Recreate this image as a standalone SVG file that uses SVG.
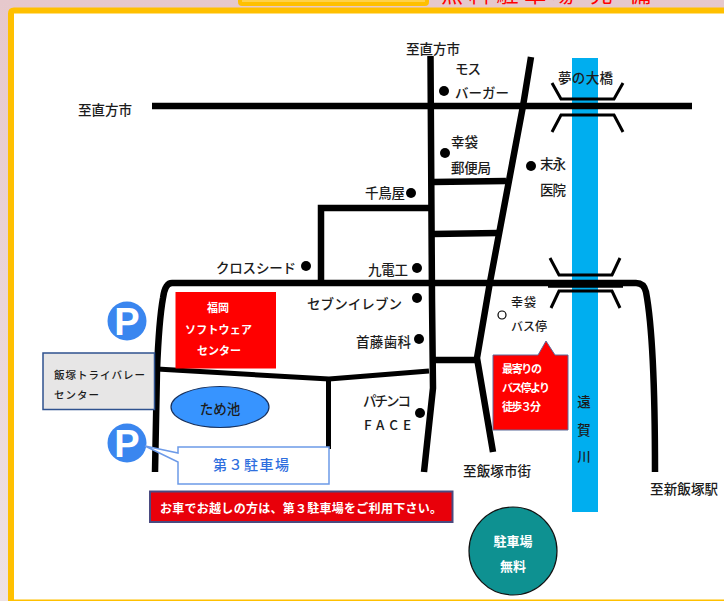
<svg xmlns="http://www.w3.org/2000/svg" width="724" height="601" viewBox="0 0 724 601">
<style>
text{font-family:"Noto Sans CJK JP","Liberation Sans",sans-serif;dominant-baseline:central}
.t{font-size:13.500px;fill:#1c1c1c;font-weight:500}
.w{font-size:11px;fill:#fff;font-weight:700}
.r{fill:none;stroke:#000;stroke-width:6.500}
.b{fill:none;stroke:#000;stroke-width:3}
.d{fill:#000}
.p{fill:#3a86ef}
.pt{font-family:"Liberation Sans",sans-serif;font-size:38px;font-weight:700;fill:#fff;text-anchor:middle}
</style>
<defs><linearGradient id="bg" x1="0" y1="0" x2="0" y2="1"><stop offset="0" stop-color="#e6c8cc"/><stop offset="1" stop-color="#eee2e4"/></linearGradient></defs>
<rect width="724" height="601" fill="url(#bg)"/>
<g id="frame">
<path d="M724 10.500H14Q11 10.500 11 13.500V601H724Z" fill="#fff"/>
<path d="M724 10.500H14Q11 10.500 11 13.500V601" fill="none" stroke="#ffc000" stroke-width="6"/>
<rect x="8" y="599.500" width="716" height="1.500" fill="#ffc000"/>
</g>
<g id="header">
<rect x="240" y="-8" width="187" height="12" rx="2" fill="#ffd24a" stroke="#ffc000" stroke-width="4"/>
<text x="441" y="-8" font-size="22" fill="#f00" textLength="210">無料駐車場 完 備</text>
</g>
<rect id="river" x="572" y="58" width="26" height="454" fill="#00aeef"/>
<g id="connectors">
<path class="r" d="M152 106H692"/>
<path class="r" d="M430.500 56L432 300L433 388L424 472"/>
<path class="r" d="M531 57L523 106L490 282L477 358L493 452"/>
<path class="r" d="M433 182L506 181"/>
<path class="r" d="M433 234L498 233"/>
<path class="r" d="M431 208H321V282"/>
<path class="r" d="M155 472L157 370Q159 320 163 298Q165 283 172 283H636Q644 283 646 292Q655 340 655 472"/>
<path class="r" style="stroke-width:7.500" d="M548 284H623"/>
<path class="r" style="stroke-width:5" d="M157 369L329 379L429 371"/>
<path class="r" style="stroke-width:5" d="M328.500 378V449"/>
<path class="r" d="M433 360H477"/>
<path class="b" d="M552 83L561 99H614L623 83"/>
<path class="b" d="M552 132L561 115H614L623 132"/>
<path class="b" d="M550 258L559 275H612L620 258"/>
<path class="b" d="M551 308L559 291H612L620 308"/>
</g>
<g id="road-labels">
<text class="t" x="78" y="109" textLength="54">至直方市</text>
<text class="t" x="406" y="48" textLength="54">至直方市</text>
<text class="t" x="463" y="470" textLength="68">至飯塚市街</text>
<text class="t" x="650" y="488" textLength="68">至新飯塚駅</text>
<text class="t" x="558" y="77" textLength="55">夢の大橋</text>
</g>
<g id="river-label">
<text class="t" x="584" y="401" text-anchor="middle">遠</text>
<text class="t" x="584" y="429" text-anchor="middle">賀</text>
<text class="t" x="584" y="456" text-anchor="middle">川</text>
</g>
<g id="mos"><circle class="d" cx="444" cy="91" r="5"/><text class="t" x="455" y="68" textLength="26" font-weight="700">モス</text><text class="t" x="455" y="92" textLength="54">バーガー</text></g>
<g id="post"><circle class="d" cx="445" cy="153" r="5"/><text class="t" x="451" y="141" textLength="27">幸袋</text><text class="t" x="451" y="167" textLength="40">郵便局</text></g>
<g id="suenaga"><circle class="d" cx="531" cy="166" r="5"/><text class="t" x="540" y="163" textLength="26">末永</text><text class="t" x="540" y="189" textLength="26">医院</text></g>
<g id="chidoriya"><circle class="d" cx="411" cy="193" r="5"/><text class="t" x="365" y="192" textLength="40">千鳥屋</text></g>
<g id="kyuden"><circle class="d" cx="417" cy="268" r="5"/><text class="t" x="368" y="269" textLength="40">九電工</text></g>
<g id="crossseed"><circle class="d" cx="306" cy="266" r="5"/><text class="t" x="216" y="267" textLength="80">クロスシード</text></g>
<g id="seven"><circle class="d" cx="417" cy="298" r="5"/><text class="t" x="307" y="303" textLength="95">セブンイレブン</text></g>
<g id="shuto"><circle class="d" cx="419" cy="339" r="5"/><text class="t" x="356" y="341" textLength="55">首藤歯科</text></g>
<g id="pachinko"><circle class="d" cx="420" cy="413" r="5"/><text class="t" x="363" y="400" textLength="48">パチンコ</text><text class="t" x="364" y="424" textLength="47">FACE</text></g>
<g id="busstop"><circle cx="502" cy="315" r="4" fill="#fff" stroke="#000" stroke-width="1.200"/><text class="t" x="511" y="301" style="font-size:12px" textLength="25">幸袋</text><text class="t" x="511" y="325" style="font-size:12px" textLength="36">バス停</text></g>
<g id="software"><rect x="175.500" y="292" width="100.500" height="76.500" fill="#f00"/><text class="w" x="218" y="307" text-anchor="middle">福岡</text><text class="w" x="185" y="329" textLength="67">ソフトウェア</text><text class="w" x="197" y="350" textLength="44">センター</text></g>
<g id="p1"><circle class="p" cx="127" cy="321" r="19.500"/><text class="pt" x="127" y="322">P</text></g>
<g id="p2"><circle class="p" cx="127" cy="443" r="19.500"/><text class="pt" x="127" y="444">P</text></g>
<g id="valley"><rect x="43" y="353" width="111.500" height="56.500" fill="#e7e6e6" stroke="#2f528f" stroke-width="1.500"/><text class="t" style="font-size:10.500px" x="54" y="374" textLength="91">飯塚トライバレー</text><text class="t" style="font-size:10.500px" x="54" y="394" textLength="45">センター</text></g>
<g id="pond"><ellipse cx="220" cy="407" rx="49" ry="20.500" fill="#3794ff" stroke="#17305c" stroke-width="1.200"/><text class="t" x="220" y="408" text-anchor="middle">ため池</text></g>
<g id="lot3"><path d="M178 447H329V484H178V462L145 446L178 453Z" fill="#fff" stroke="#6c9ae8" stroke-width="1.500"/><text x="213" y="464" font-size="14" font-weight="500" fill="#2f6fde" textLength="76">第３駐車場</text></g>
<g id="notice"><rect x="150" y="491.500" width="302.500" height="30.500" fill="#e8000a" stroke="#4a4a80" stroke-width="2"/><text class="w" x="160" y="507" textLength="282" style="font-size:12px">お車でお越しの方は、第３駐車場をご利用下さい。</text></g>
<g id="free"><circle cx="513" cy="551" r="44" fill="#0e9191" stroke="#111" stroke-width="1.200"/><text class="w" x="513" y="540" text-anchor="middle" style="font-size:13px">駐車場</text><text class="w" x="513" y="565" text-anchor="middle" style="font-size:13px">無料</text></g>
<g id="walk"><path d="M493 355H538L546 341L555 355H568V430H493Z" fill="#f00" stroke="#5b6a9a" stroke-width="1"/><text class="w" x="502" y="368" textLength="40">最寄りの</text><text class="w" x="502" y="387" textLength="48">バス停より</text><text class="w" x="502" y="406" textLength="39">徒歩３分</text></g>
</svg>
